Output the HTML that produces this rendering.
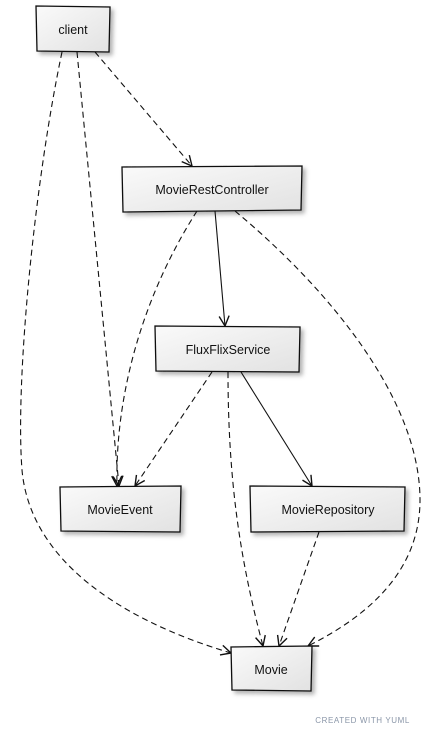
<!DOCTYPE html>
<html><head><style>
html,body{margin:0;padding:0;background:#fff;}
svg{display:block;}
text{font-family:"Liberation Sans",sans-serif;font-size:12.5px;fill:#111;}
</style></head><body>
<svg width="426" height="735" viewBox="0 0 426 735">
<defs>
<linearGradient id="g" x1="0" y1="0" x2="1" y2="1"><stop offset="0" stop-color="#fafafa"/><stop offset="1" stop-color="#e2e2e2"/></linearGradient>
<marker id="a" markerWidth="14" markerHeight="14" refX="11" refY="6" orient="auto" markerUnits="userSpaceOnUse"><path d="M1,1 L11,6 L1,11" fill="none" stroke="#111" stroke-width="1.4"/></marker>
<filter id="s" x="-10%" y="-10%" width="130%" height="140%"><feDropShadow dx="3" dy="3" stdDeviation="2" flood-color="#000" flood-opacity="0.3"/></filter>
</defs>
<g fill="none" stroke="#111" stroke-width="1.1">
<path d="M95 52 L192 166" stroke-dasharray="6,4" marker-end="url(#a)"/>
<path d="M77 52 L119 486" stroke-dasharray="6,4" marker-end="url(#a)"/>
<path d="M62 52 C 35 180, 15 380, 22 470 C 30 560, 120 620, 231 653" stroke-dasharray="6,4" marker-end="url(#a)"/>
<path d="M215 211 L225 326" marker-end="url(#a)"/>
<path d="M197 211 C 140 300,115 400,117 486" stroke-dasharray="6,4" marker-end="url(#a)"/>
<path d="M235 211 C 330 290, 420 400, 420 500 C 420 570, 370 615, 308 646" stroke-dasharray="6,4" marker-end="url(#a)"/>
<path d="M212 372 L135 486" stroke-dasharray="6,4" marker-end="url(#a)"/>
<path d="M228 372 C 228 480,240 560,263 646" stroke-dasharray="6,4" marker-end="url(#a)"/>
<path d="M241 372 L312 486" marker-end="url(#a)"/>
<path d="M319 532 L279 646" stroke-dasharray="6,4" marker-end="url(#a)"/>
</g>
<g stroke="#111" stroke-width="1.3" fill="url(#g)" filter="url(#s)">
<path d="M36 6 L110 7 L109 52 L37 51 Z"/>
<path d="M122 167 L302 166 L301 210 L123 212 Z"/>
<path d="M155 326 L300 327 L299 372 L156 371 Z"/>
<path d="M60 487 L181 486 L180 532 L61 531 Z"/>
<path d="M250 486 L405 487 L404 531 L251 532 Z"/>
<path d="M231 647 L312 646 L311 691 L232 690 Z"/>
</g>
<text x="73" y="34" text-anchor="middle">client</text>
<text x="212" y="194" text-anchor="middle">MovieRestController</text>
<text x="228" y="354" text-anchor="middle">FluxFlixService</text>
<text x="120" y="514" text-anchor="middle">MovieEvent</text>
<text x="328" y="514" text-anchor="middle">MovieRepository</text>
<text x="271" y="674" text-anchor="middle">Movie</text>
<text x="410" y="723" text-anchor="end" style="font-size:8px;fill:#8a96a8;letter-spacing:0.6px">CREATED WITH YUML</text>
</svg>
</body></html>
